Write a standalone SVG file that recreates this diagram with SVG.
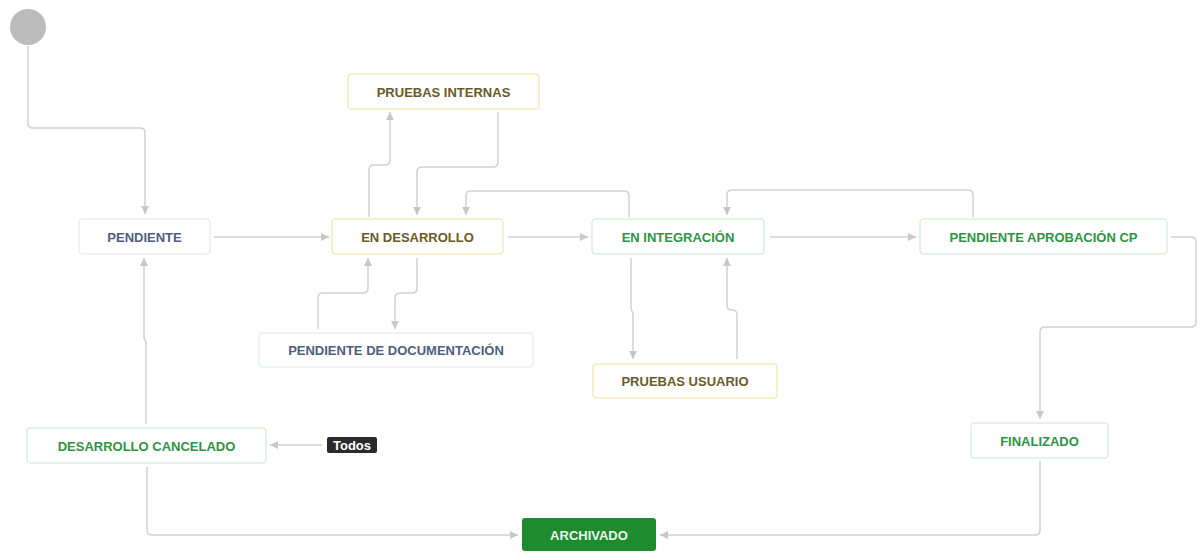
<svg xmlns="http://www.w3.org/2000/svg" width="1200" height="552" viewBox="0 0 1200 552">
<style>
.c{fill:none;stroke:#d2d2d2;stroke-width:1.5;marker-end:url(#ah)}
.box{rx:3;ry:3;fill:#fff;stroke-width:1}
.g{stroke:#cfe3d5}
.y{stroke:#f2df9f}
.b{stroke:#e1e5ec}
.t{font-family:"Liberation Sans",Arial,sans-serif;font-weight:bold;font-size:13px;text-anchor:middle;dominant-baseline:central}
.tg{fill:#2f9443}
.ty{fill:#6a5a27}
.tb{fill:#4e5e7e}
</style>
<defs>
<marker id="ah" markerUnits="userSpaceOnUse" markerWidth="10" markerHeight="10" refX="8" refY="4" orient="auto">
<path d="M0,0 L8,4 L0,8 z" fill="#c8c8c8"/>
</marker>
</defs>
<rect width="1200" height="552" fill="#fff"/>
<g id="connectors">
<path class="c" d="M28,46 V123 Q28,128 33,128 H140 Q145,128 145,133 V214"/>
<path class="c" d="M214,237 H329"/>
<path class="c" d="M369,217 V170 Q369,165 374,165 H385 Q390,165 390,160 V112"/>
<path class="c" d="M498,112 V162 Q498,167 493,167 H422 Q417,167 417,172 V215"/>
<path class="c" d="M629,217 V196 Q629,191 624,191 H471 Q466,191 466,196 V215"/>
<path class="c" d="M508,237 H588"/>
<path class="c" d="M770,237 H916"/>
<path class="c" d="M973,217 V195 Q973,190 968,190 H732 Q727,190 727,195 V215"/>
<path class="c" d="M1171,237 H1191 Q1196,237 1196,242 V322 Q1196,327 1191,327 H1045 Q1040,327 1040,332 V419"/>
<path class="c" d="M1040,461 V530 Q1040,535 1035,535 H660"/>
<path class="c" d="M147,467 V530 Q147,535 152,535 H518"/>
<path class="c" d="M146,424 V342 L144,338 V258"/>
<path class="c" d="M322,445 H270"/>
<path class="c" d="M318,329 V298 Q318,293 323,293 H363 Q368,293 368,288 V258"/>
<path class="c" d="M417,258 V288 Q417,293 412,293 H400 Q395,293 395,298 V329"/>
<path class="c" d="M631,258 V307 Q631,310 633,313 V359"/>
<path class="c" d="M737,359 V315 Q737,310 732,310 Q727,310 727,305 V258"/>
</g>
<g id="start"><circle cx="28" cy="27" r="18" fill="#bcbcbc"/></g>
<g id="pendiente"><rect class="box b" x="79" y="219" width="131" height="35"/><text class="t tb" x="144.5" y="237">PENDIENTE</text></g>
<g id="en-desarrollo"><rect class="box y" x="332" y="219" width="171" height="35"/><text class="t ty" x="417.5" y="237">EN DESARROLLO</text></g>
<g id="pruebas-internas"><rect class="box y" x="348" y="74" width="191" height="35"/><text class="t ty" x="443.5" y="92">PRUEBAS INTERNAS</text></g>
<g id="en-integracion"><rect class="box g" x="592" y="219" width="172" height="35"/><text class="t tg" x="678" y="237">EN INTEGRACIÓN</text></g>
<g id="pendiente-aprobacion"><rect class="box g" x="920" y="219" width="247" height="35"/><text class="t tg" x="1043.5" y="237">PENDIENTE APROBACIÓN CP</text></g>
<g id="pendiente-documentacion"><rect class="box b" x="259" y="333" width="274" height="34"/><text class="t tb" x="396" y="350">PENDIENTE DE DOCUMENTACIÓN</text></g>
<g id="pruebas-usuario"><rect class="box y" x="593" y="364" width="184" height="34"/><text class="t ty" x="685" y="381">PRUEBAS USUARIO</text></g>
<g id="finalizado"><rect class="box g" x="971" y="423" width="137" height="35"/><text class="t tg" x="1039.5" y="441">FINALIZADO</text></g>
<g id="desarrollo-cancelado"><rect class="box g" x="27" y="428" width="239" height="35"/><text class="t tg" x="146.5" y="446">DESARROLLO CANCELADO</text></g>
<g id="todos"><rect x="327" y="437" width="50" height="16" rx="2" fill="#2b2b2b"/><text class="t" x="352" y="445.5" fill="#fff" font-size="12">Todos</text></g>
<g id="archivado"><rect x="522" y="518" width="134" height="33" rx="3" fill="#1f8b2f"/><text class="t" x="589" y="535" fill="#e8f5e9">ARCHIVADO</text></g>
</svg>
